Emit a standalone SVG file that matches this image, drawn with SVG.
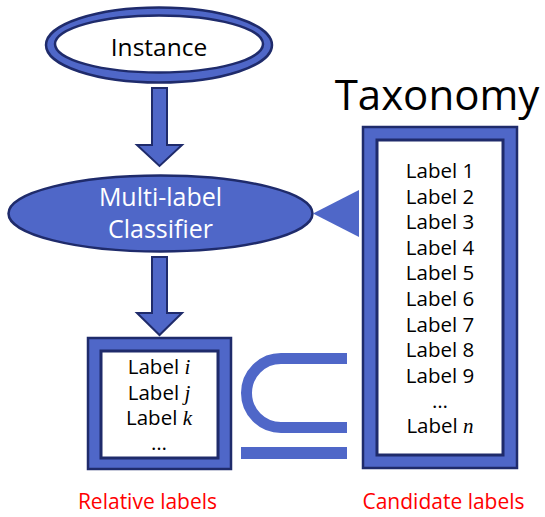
<svg xmlns="http://www.w3.org/2000/svg" width="545" height="517" viewBox="0 0 545 517">
<style>
.blue{fill:#4F67C8;stroke:#1F2B6B;stroke-width:2.5}
.inner{fill:#fff;stroke:#1F2B6B;stroke-width:3}
.t{font-family:"Open Sans","Noto Sans",sans-serif;fill:#000;text-anchor:middle}
.lab{font-size:20.5px}
.var{font-family:"Liberation Serif",serif;font-style:italic;font-size:21px}
.red{font-family:"Open Sans","Noto Sans",sans-serif;fill:#FF0000;font-size:21px;text-anchor:middle}
</style>
<rect width="545" height="517" fill="#fff"/>
<g id="instance">
<ellipse class="blue" cx="159" cy="45" rx="113" ry="37.5"/>
<ellipse class="inner" cx="159" cy="44" rx="104" ry="28.5" style="stroke-width:2.5"/>
<text class="t" x="159" y="56" font-size="24.5">Instance</text>
</g>
<g id="classifier">
<ellipse class="blue" cx="160.5" cy="213.5" rx="152" ry="38"/>
<text class="t" x="160.5" y="206" font-size="25" style="fill:#fff">Multi-label</text>
<text class="t" x="160.5" y="238" font-size="25" style="fill:#fff">Classifier</text>
</g>
<g id="relative">
<rect class="blue" x="88" y="338" width="143" height="131"/>
<rect class="inner" x="101" y="351" width="117" height="107"/>
<text class="t lab" x="159" y="374">Label <tspan class="var">i</tspan></text>
<text class="t lab" x="159" y="400">Label <tspan class="var">j</tspan></text>
<text class="t lab" x="159" y="425">Label <tspan class="var">k</tspan></text>
<text class="t lab" x="159" y="450">…</text>
</g>
<g id="taxonomy">
<text class="t" x="437" y="110" font-size="42">Taxonomy</text>
<rect class="blue" x="363" y="127" width="154" height="341"/>
<rect class="inner" x="377" y="140" width="126" height="315"/>
<text class="t lab" x="440" y="178">Label 1</text>
<text class="t lab" x="440" y="203.6">Label 2</text>
<text class="t lab" x="440" y="229.2">Label 3</text>
<text class="t lab" x="440" y="254.8">Label 4</text>
<text class="t lab" x="440" y="280.4">Label 5</text>
<text class="t lab" x="440" y="306">Label 6</text>
<text class="t lab" x="440" y="331.6">Label 7</text>
<text class="t lab" x="440" y="357.2">Label 8</text>
<text class="t lab" x="440" y="382.8">Label 9</text>
<text class="t lab" x="440" y="408">…</text>
<text class="t lab" x="440" y="433">Label <tspan class="var">n</tspan></text>
</g>
<g id="subset">
<path d="M347,358.5 H281 A34.5,34.5 0 0 0 281,427.5 H347" fill="none" stroke="#4F67C8" stroke-width="11"/>
<rect x="241" y="447" width="106" height="12" fill="#4F67C8"/>
</g>
<g id="connectors">
<polygon class="blue" points="152,88 167,88 167,145 182,145 159.5,166 137,145 152,145" style="stroke-width:2"/>
<polygon class="blue" points="152,257 167,257 167,313 182,313 159.5,335 137,313 152,313" style="stroke-width:2"/>
<polygon points="313,213.5 359,190 359,237" fill="#4F67C8"/>
</g>
<text class="red" x="147.5" y="509">Relative labels</text>
<text class="red" x="443.5" y="509">Candidate labels</text>
</svg>
